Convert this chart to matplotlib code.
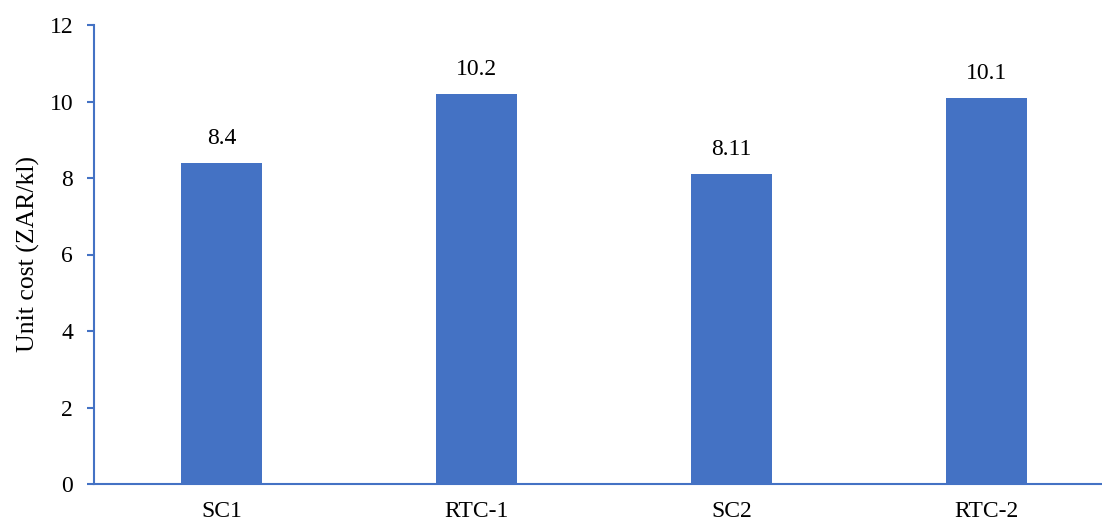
import matplotlib
matplotlib.use("Agg")
import matplotlib.pyplot as plt

categories = ["SC1", "RTC-1", "SC2", "RTC-2"]
unit_cost = [8.4, 10.2, 8.11, 10.1]
value_labels = ["8.4", "10.2", "8.11", "10.1"]

plt.rcParams['font.family'] = ['Liberation Serif', 'DejaVu Serif']
blue = '#4472C4'

fig = plt.figure(figsize=(11.02, 5.23), dpi=100)
# axes run off the right edge, like the reference
ax = fig.add_axes([94 / 1102, 39 / 523, (1102 - 94) / 1102, 459 / 523])

x = range(len(categories))
ax.bar(x, unit_cost, width=0.314, color=blue)
for i, v in enumerate(unit_cost):
    ax.annotate(value_labels[i], (i, v), xytext=(0, 10), textcoords='offset points',
                ha='center', va='bottom', fontsize=17)

ax.set_xlim(-0.5, 3.5 - 12 / 255)
ax.set_ylim(0, 12)
ax.set_yticks(range(0, 13, 2))
ax.set_xticks(list(x))
ax.set_xticklabels(categories)
ax.tick_params(axis='x', length=0, labelsize=17, pad=12)
ax.tick_params(axis='y', length=5, width=1.5, color=blue, labelsize=17, pad=10)
ax.set_ylabel("Unit cost (ZAR/kl)", fontsize=18.5, labelpad=7)

for s in ['top', 'right']:
    ax.spines[s].set_visible(False)
for s in ['left', 'bottom']:
    ax.spines[s].set_color(blue)
    ax.spines[s].set_linewidth(1.5)

fig.savefig("out.png", dpi=100)
